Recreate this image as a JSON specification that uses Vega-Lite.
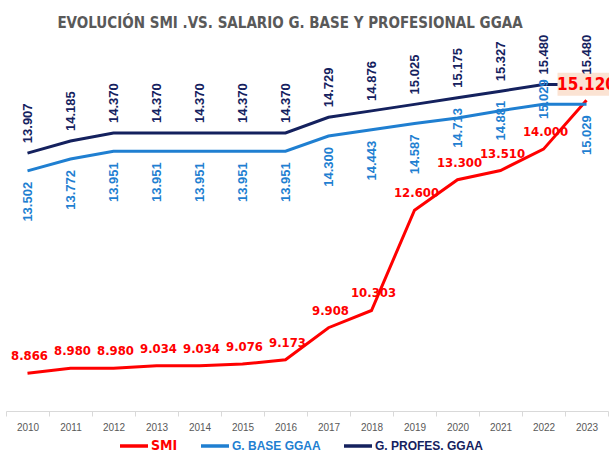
{
  "$schema": "https://vega.github.io/schema/vega-lite/v6.json",
  "width": 602,
  "height": 371,
  "autosize": {"type": "none"},
  "padding": {"left": 6, "top": 40, "right": 1, "bottom": 46},
  "background": "white",
  "title": {
    "text": "EVOLUCIÓN SMI .VS. SALARIO G. BASE Y PROFESIONAL GGAA",
    "font": "DejaVu Sans Condensed",
    "fontSize": 15,
    "fontWeight": "bold",
    "color": "#595959",
    "anchor": "middle",
    "frame": "group",
    "offset": 9,
    "dx": -17,
    "dy": 17,
    "baseline": "alphabetic"
  },
  "config": {
    "view": {"stroke": null},
    "locale": {"number": {"decimal": ",", "thousands": ".", "grouping": [3], "currency": ["", "€"]}}
  },
  "data": {
    "values": [
      {"year": "2010", "serie": "SMI", "value": 8866},
      {"year": "2011", "serie": "SMI", "value": 8980},
      {"year": "2012", "serie": "SMI", "value": 8980},
      {"year": "2013", "serie": "SMI", "value": 9034},
      {"year": "2014", "serie": "SMI", "value": 9034},
      {"year": "2015", "serie": "SMI", "value": 9076},
      {"year": "2016", "serie": "SMI", "value": 9173},
      {"year": "2017", "serie": "SMI", "value": 9908},
      {"year": "2018", "serie": "SMI", "value": 10303},
      {"year": "2019", "serie": "SMI", "value": 12600},
      {"year": "2020", "serie": "SMI", "value": 13300},
      {"year": "2021", "serie": "SMI", "value": 13510},
      {"year": "2022", "serie": "SMI", "value": 14000},
      {"year": "2023", "serie": "SMI", "value": 15120},
      {"year": "2010", "serie": "G. BASE GGAA", "value": 13502},
      {"year": "2011", "serie": "G. BASE GGAA", "value": 13772},
      {"year": "2012", "serie": "G. BASE GGAA", "value": 13951},
      {"year": "2013", "serie": "G. BASE GGAA", "value": 13951},
      {"year": "2014", "serie": "G. BASE GGAA", "value": 13951},
      {"year": "2015", "serie": "G. BASE GGAA", "value": 13951},
      {"year": "2016", "serie": "G. BASE GGAA", "value": 13951},
      {"year": "2017", "serie": "G. BASE GGAA", "value": 14300},
      {"year": "2018", "serie": "G. BASE GGAA", "value": 14443},
      {"year": "2019", "serie": "G. BASE GGAA", "value": 14587},
      {"year": "2020", "serie": "G. BASE GGAA", "value": 14713},
      {"year": "2021", "serie": "G. BASE GGAA", "value": 14881},
      {"year": "2022", "serie": "G. BASE GGAA", "value": 15029},
      {"year": "2023", "serie": "G. BASE GGAA", "value": 15029},
      {"year": "2010", "serie": "G. PROFES. GGAA", "value": 13907},
      {"year": "2011", "serie": "G. PROFES. GGAA", "value": 14185},
      {"year": "2012", "serie": "G. PROFES. GGAA", "value": 14370},
      {"year": "2013", "serie": "G. PROFES. GGAA", "value": 14370},
      {"year": "2014", "serie": "G. PROFES. GGAA", "value": 14370},
      {"year": "2015", "serie": "G. PROFES. GGAA", "value": 14370},
      {"year": "2016", "serie": "G. PROFES. GGAA", "value": 14370},
      {"year": "2017", "serie": "G. PROFES. GGAA", "value": 14729},
      {"year": "2018", "serie": "G. PROFES. GGAA", "value": 14876},
      {"year": "2019", "serie": "G. PROFES. GGAA", "value": 15025},
      {"year": "2020", "serie": "G. PROFES. GGAA", "value": 15175},
      {"year": "2021", "serie": "G. PROFES. GGAA", "value": 15327},
      {"year": "2022", "serie": "G. PROFES. GGAA", "value": 15480},
      {"year": "2023", "serie": "G. PROFES. GGAA", "value": 15480}
    ]
  },
  "encoding": {
    "x": {
      "field": "year",
      "type": "ordinal",
      "scale": {"paddingInner": 0, "paddingOuter": 0},
      "axis": {
        "title": null,
        "labelAngle": 0,
        "labelColor": "#595959",
        "labelFontSize": 10,
        "labelFont": "Liberation Sans",
        "domainColor": "#d9d9d9",
        "tickColor": "#d9d9d9",
        "tickBand": "extent",
        "tickSize": 5,
        "labelPadding": 6,
        "grid": false
      }
    },
    "y": {
      "field": "value",
      "type": "quantitative",
      "scale": {"domain": [8000, 16500], "nice": false, "zero": false},
      "axis": null
    }
  },
  "layer": [
    {
      "mark": {"type": "line", "strokeWidth": 3},
      "encoding": {
        "color": {
          "field": "serie",
          "type": "nominal",
          "sort": ["SMI", "G. BASE GGAA", "G. PROFES. GGAA"],
          "scale": {"domain": ["SMI", "G. BASE GGAA", "G. PROFES. GGAA"], "range": ["#ff0000", "#1f7fd1", "#14215e"]},
          "legend": {
            "orient": "none",
            "legendX": 112,
            "legendY": 390,
            "direction": "horizontal",
            "title": null,
            "symbolType": "stroke",
            "symbolSize": 784,
            "symbolStrokeWidth": 3.5,
            "labelFont": "Liberation Sans",
            "labelFontSize": 12,
            "labelFontWeight": "bold",
            "labelOffset": 1,
            "columnPadding": 16,
            "padding": 0,
            "encode": {
              "labels": {
                "update": {
                  "fill": {"signal": "scale('color', datum.value)"},
                  "fontSize": {"signal": "datum.value === 'SMI' ? 14 : 12"},
                  "font": {"signal": "datum.value === 'SMI' ? 'DejaVu Sans Condensed' : 'Liberation Sans'"}
                }
              }
            }
          }
        }
      }
    },
    {
      "transform": [{"filter": "datum.serie === 'SMI' && datum.year === '2023'"}],
      "mark": {"type": "point", "shape": "M-1,-0.4H1V0.4H-1Z", "filled": true, "size": 3364, "color": "#fbe3d3", "opacity": 1, "strokeWidth": 0, "yOffset": -16}
    },
    {
      "transform": [{"filter": "datum.serie === 'SMI' && datum.year !== '2023'"}],
      "mark": {"type": "text", "font": "DejaVu Sans Condensed", "fontWeight": "bold", "fontSize": 13, "color": "#ff0000", "dy": -17, "dx": 2, "align": "center", "baseline": "middle"},
      "encoding": {"text": {"field": "value", "type": "quantitative", "format": ",.0f"}}
    },
    {
      "transform": [{"filter": "datum.serie === 'SMI' && datum.year === '2023'"}],
      "mark": {"type": "text", "font": "DejaVu Sans Condensed", "fontWeight": "bold", "fontSize": 17, "color": "#ff0000", "dy": -15, "align": "center", "baseline": "middle"},
      "encoding": {"text": {"field": "value", "type": "quantitative", "format": ",.0f"}}
    },
    {
      "transform": [{"filter": "datum.serie === 'G. PROFES. GGAA'"}],
      "mark": {"type": "text", "font": "Liberation Sans", "fontWeight": "bold", "fontSize": 13, "color": "#14215e", "angle": -90, "align": "left", "baseline": "middle", "dx": 10},
      "encoding": {"text": {"field": "value", "type": "quantitative", "format": ",.0f"}}
    },
    {
      "transform": [{"filter": "datum.serie === 'G. BASE GGAA' && datum.year !== '2020' && datum.year !== '2021' && datum.year !== '2022'"}],
      "mark": {"type": "text", "font": "Liberation Sans", "fontWeight": "bold", "fontSize": 13, "color": "#1f7fd1", "angle": -90, "align": "right", "baseline": "middle", "dx": -11},
      "encoding": {"text": {"field": "value", "type": "quantitative", "format": ",.0f"}}
    },
    {
      "transform": [{"filter": "datum.serie === 'G. BASE GGAA' && (datum.year === '2020' || datum.year === '2021')"}],
      "mark": {"type": "text", "font": "Liberation Sans", "fontWeight": "bold", "fontSize": 13, "color": "#1f7fd1", "angle": -90, "align": "center", "baseline": "middle", "dx": -10},
      "encoding": {"text": {"field": "value", "type": "quantitative", "format": ",.0f"}}
    },
    {
      "transform": [{"filter": "datum.serie === 'G. BASE GGAA' && datum.year === '2022'"}],
      "mark": {"type": "text", "font": "Liberation Sans", "fontWeight": "bold", "fontSize": 13, "color": "#1f7fd1", "angle": -90, "align": "center", "baseline": "middle", "dx": 5},
      "encoding": {"text": {"field": "value", "type": "quantitative", "format": ",.0f"}}
    }
  ]
}
